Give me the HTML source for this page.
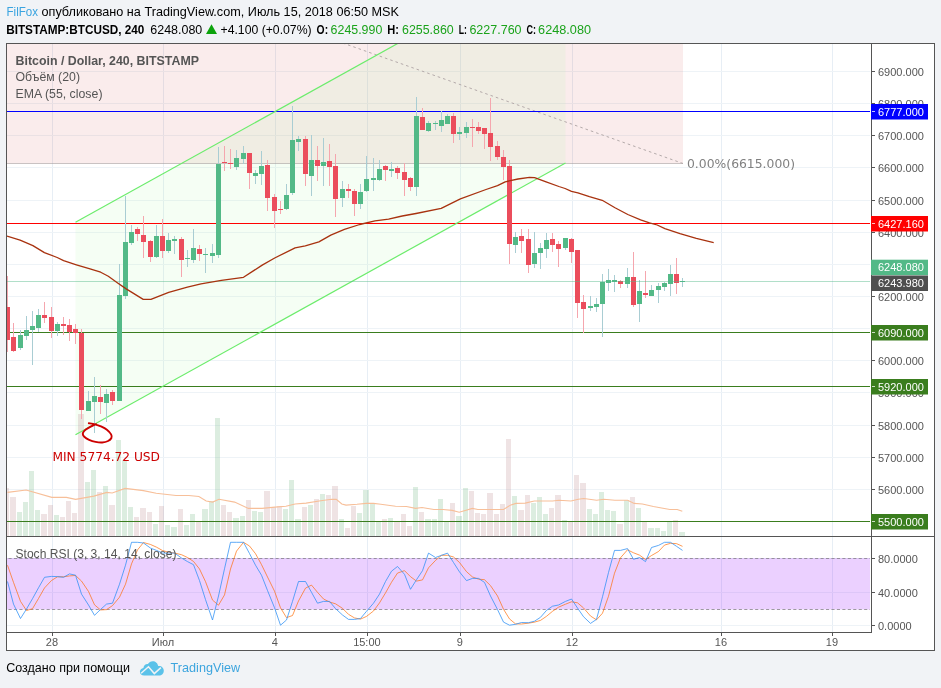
<!DOCTYPE html>
<html lang="ru"><head><meta charset="utf-8"><title>BTCUSD chart by FilFox — TradingView</title>
<style>html,body{margin:0;padding:0;background:#f1f3f6;width:941px;height:688px;overflow:hidden}
svg{display:block;position:absolute;left:0;top:0}
text{font-family:"Liberation Sans",Arial,sans-serif;white-space:pre}
.dj{font-family:"DejaVu Sans","Liberation Sans",sans-serif}
.ax{font-size:11px;fill:#555}
.lb{font-size:11px;fill:#fff}
.lg{font-size:12.3px;fill:#555}
.hd{font-size:12.4px;fill:#000}
.g{fill:#1ba31b}
</style></head><body>
<svg width="941" height="688" viewBox="0 0 941 688">
<rect x="0" y="0" width="941" height="688" fill="#f1f3f6"/>
<rect x="6" y="43" width="929" height="608" fill="#fff"/>
<defs><clipPath id="cm"><rect x="7" y="44" width="863" height="492"/></clipPath>
<clipPath id="cs"><rect x="7" y="537" width="863" height="95"/></clipPath></defs>
<g clip-path="url(#cm)">
<g fill="#eef3f7" shape-rendering="crispEdges">
<rect x="52" y="44" width="1" height="492" fill="#e7eef5"/>
<rect x="163" y="44" width="1" height="492" fill="#e7eef5"/>
<rect x="275" y="44" width="1" height="492" fill="#e7eef5"/>
<rect x="367" y="44" width="1" height="492" fill="#e7eef5"/>
<rect x="460" y="44" width="1" height="492" fill="#e7eef5"/>
<rect x="572" y="44" width="1" height="492" fill="#e7eef5"/>
<rect x="721" y="44" width="1" height="492" fill="#e7eef5"/>
<rect x="832" y="44" width="1" height="492" fill="#e7eef5"/>
<rect x="7" y="521" width="863" height="1"/>
<rect x="7" y="489" width="863" height="1"/>
<rect x="7" y="457" width="863" height="1"/>
<rect x="7" y="425" width="863" height="1"/>
<rect x="7" y="392" width="863" height="1"/>
<rect x="7" y="360" width="863" height="1"/>
<rect x="7" y="328" width="863" height="1"/>
<rect x="7" y="296" width="863" height="1"/>
<rect x="7" y="264" width="863" height="1"/>
<rect x="7" y="232" width="863" height="1"/>
<rect x="7" y="200" width="863" height="1"/>
<rect x="7" y="167" width="863" height="1"/>
<rect x="7" y="135" width="863" height="1"/>
<rect x="7" y="103" width="863" height="1"/>
<rect x="7" y="71" width="863" height="1"/>
</g>
<rect x="7" y="44" width="676" height="119" fill="rgb(204,40,40)" fill-opacity="0.092"/>
<polygon points="75.5,222.3 565.5,-49.65 565.5,163 75.5,434.7" fill="rgb(184,248,177)" fill-opacity="0.14"/>
<rect x="7" y="163" width="676" height="1" fill="#a59a9a" fill-opacity="0.6" shape-rendering="crispEdges"/>
<line x1="683" y1="163.5" x2="330" y2="38.5" stroke="#b4aaaa" stroke-width="1" stroke-dasharray="2.6,3"/>
<g shape-rendering="crispEdges">
<rect x="4" y="488" width="5" height="48" fill="rgb(191,143,147)" fill-opacity="0.25"/>
<rect x="10" y="497" width="6" height="39" fill="rgb(191,143,147)" fill-opacity="0.25"/>
<rect x="17" y="512" width="5" height="24" fill="rgb(115,183,131)" fill-opacity="0.25"/>
<rect x="23" y="502" width="5" height="34" fill="rgb(115,183,131)" fill-opacity="0.25"/>
<rect x="29" y="471" width="5" height="65" fill="rgb(115,183,131)" fill-opacity="0.25"/>
<rect x="35" y="510" width="5" height="26" fill="rgb(115,183,131)" fill-opacity="0.25"/>
<rect x="41" y="514" width="6" height="22" fill="rgb(191,143,147)" fill-opacity="0.25"/>
<rect x="48" y="505" width="5" height="31" fill="rgb(191,143,147)" fill-opacity="0.25"/>
<rect x="54" y="515" width="5" height="21" fill="rgb(115,183,131)" fill-opacity="0.25"/>
<rect x="60" y="517" width="5" height="19" fill="rgb(191,143,147)" fill-opacity="0.25"/>
<rect x="66" y="501" width="5" height="35" fill="rgb(191,143,147)" fill-opacity="0.25"/>
<rect x="72" y="513" width="5" height="23" fill="rgb(191,143,147)" fill-opacity="0.25"/>
<rect x="78" y="414" width="6" height="122" fill="rgb(191,143,147)" fill-opacity="0.25"/>
<rect x="85" y="482" width="5" height="54" fill="rgb(115,183,131)" fill-opacity="0.25"/>
<rect x="91" y="470" width="5" height="66" fill="rgb(115,183,131)" fill-opacity="0.25"/>
<rect x="97" y="492" width="5" height="44" fill="rgb(191,143,147)" fill-opacity="0.25"/>
<rect x="103" y="486" width="5" height="50" fill="rgb(115,183,131)" fill-opacity="0.25"/>
<rect x="109" y="505" width="6" height="31" fill="rgb(191,143,147)" fill-opacity="0.25"/>
<rect x="116" y="440" width="5" height="96" fill="rgb(115,183,131)" fill-opacity="0.25"/>
<rect x="122" y="460" width="5" height="76" fill="rgb(115,183,131)" fill-opacity="0.25"/>
<rect x="128" y="507" width="5" height="29" fill="rgb(115,183,131)" fill-opacity="0.25"/>
<rect x="134" y="517" width="5" height="19" fill="rgb(191,143,147)" fill-opacity="0.25"/>
<rect x="140" y="508" width="6" height="28" fill="rgb(191,143,147)" fill-opacity="0.25"/>
<rect x="147" y="512" width="5" height="24" fill="rgb(191,143,147)" fill-opacity="0.25"/>
<rect x="153" y="524" width="5" height="12" fill="rgb(115,183,131)" fill-opacity="0.25"/>
<rect x="159" y="506" width="5" height="30" fill="rgb(191,143,147)" fill-opacity="0.25"/>
<rect x="165" y="525" width="5" height="11" fill="rgb(115,183,131)" fill-opacity="0.25"/>
<rect x="171" y="527" width="6" height="9" fill="rgb(115,183,131)" fill-opacity="0.25"/>
<rect x="178" y="509" width="5" height="27" fill="rgb(191,143,147)" fill-opacity="0.25"/>
<rect x="184" y="525" width="5" height="11" fill="rgb(115,183,131)" fill-opacity="0.25"/>
<rect x="190" y="514" width="5" height="22" fill="rgb(115,183,131)" fill-opacity="0.25"/>
<rect x="196" y="522" width="5" height="14" fill="rgb(191,143,147)" fill-opacity="0.25"/>
<rect x="202" y="509" width="6" height="27" fill="rgb(115,183,131)" fill-opacity="0.25"/>
<rect x="209" y="501" width="5" height="35" fill="rgb(115,183,131)" fill-opacity="0.25"/>
<rect x="215" y="418" width="5" height="118" fill="rgb(115,183,131)" fill-opacity="0.25"/>
<rect x="221" y="505" width="5" height="31" fill="rgb(191,143,147)" fill-opacity="0.25"/>
<rect x="227" y="512" width="5" height="24" fill="rgb(191,143,147)" fill-opacity="0.25"/>
<rect x="233" y="518" width="6" height="18" fill="rgb(115,183,131)" fill-opacity="0.25"/>
<rect x="240" y="516" width="5" height="20" fill="rgb(115,183,131)" fill-opacity="0.25"/>
<rect x="246" y="500" width="5" height="36" fill="rgb(191,143,147)" fill-opacity="0.25"/>
<rect x="252" y="511" width="5" height="25" fill="rgb(115,183,131)" fill-opacity="0.25"/>
<rect x="258" y="512" width="5" height="24" fill="rgb(115,183,131)" fill-opacity="0.25"/>
<rect x="264" y="491" width="6" height="45" fill="rgb(191,143,147)" fill-opacity="0.25"/>
<rect x="271" y="507" width="5" height="29" fill="rgb(191,143,147)" fill-opacity="0.25"/>
<rect x="277" y="506" width="5" height="30" fill="rgb(191,143,147)" fill-opacity="0.25"/>
<rect x="283" y="509" width="5" height="27" fill="rgb(115,183,131)" fill-opacity="0.25"/>
<rect x="289" y="480" width="5" height="56" fill="rgb(115,183,131)" fill-opacity="0.25"/>
<rect x="295" y="519" width="6" height="17" fill="rgb(115,183,131)" fill-opacity="0.25"/>
<rect x="302" y="507" width="5" height="29" fill="rgb(191,143,147)" fill-opacity="0.25"/>
<rect x="308" y="505" width="5" height="31" fill="rgb(115,183,131)" fill-opacity="0.25"/>
<rect x="314" y="499" width="5" height="37" fill="rgb(191,143,147)" fill-opacity="0.25"/>
<rect x="320" y="494" width="5" height="42" fill="rgb(115,183,131)" fill-opacity="0.25"/>
<rect x="326" y="495" width="5" height="41" fill="rgb(191,143,147)" fill-opacity="0.25"/>
<rect x="332" y="486" width="6" height="50" fill="rgb(191,143,147)" fill-opacity="0.25"/>
<rect x="339" y="519" width="5" height="17" fill="rgb(115,183,131)" fill-opacity="0.25"/>
<rect x="345" y="528" width="5" height="8" fill="rgb(191,143,147)" fill-opacity="0.25"/>
<rect x="351" y="506" width="5" height="30" fill="rgb(191,143,147)" fill-opacity="0.25"/>
<rect x="357" y="513" width="5" height="23" fill="rgb(115,183,131)" fill-opacity="0.25"/>
<rect x="363" y="490" width="6" height="46" fill="rgb(115,183,131)" fill-opacity="0.25"/>
<rect x="370" y="504" width="5" height="32" fill="rgb(115,183,131)" fill-opacity="0.25"/>
<rect x="376" y="522" width="5" height="14" fill="rgb(115,183,131)" fill-opacity="0.25"/>
<rect x="382" y="519" width="5" height="17" fill="rgb(191,143,147)" fill-opacity="0.25"/>
<rect x="388" y="518" width="5" height="18" fill="rgb(115,183,131)" fill-opacity="0.25"/>
<rect x="394" y="522" width="6" height="14" fill="rgb(191,143,147)" fill-opacity="0.25"/>
<rect x="401" y="514" width="5" height="22" fill="rgb(191,143,147)" fill-opacity="0.25"/>
<rect x="407" y="526" width="5" height="10" fill="rgb(191,143,147)" fill-opacity="0.25"/>
<rect x="413" y="487" width="5" height="49" fill="rgb(115,183,131)" fill-opacity="0.25"/>
<rect x="419" y="512" width="5" height="24" fill="rgb(191,143,147)" fill-opacity="0.25"/>
<rect x="425" y="519" width="6" height="17" fill="rgb(115,183,131)" fill-opacity="0.25"/>
<rect x="432" y="519" width="5" height="17" fill="rgb(115,183,131)" fill-opacity="0.25"/>
<rect x="438" y="499" width="5" height="37" fill="rgb(115,183,131)" fill-opacity="0.25"/>
<rect x="444" y="522" width="5" height="14" fill="rgb(115,183,131)" fill-opacity="0.25"/>
<rect x="450" y="503" width="5" height="33" fill="rgb(191,143,147)" fill-opacity="0.25"/>
<rect x="456" y="516" width="6" height="20" fill="rgb(115,183,131)" fill-opacity="0.25"/>
<rect x="463" y="488" width="5" height="48" fill="rgb(115,183,131)" fill-opacity="0.25"/>
<rect x="469" y="491" width="5" height="45" fill="rgb(191,143,147)" fill-opacity="0.25"/>
<rect x="475" y="513" width="5" height="23" fill="rgb(191,143,147)" fill-opacity="0.25"/>
<rect x="481" y="514" width="5" height="22" fill="rgb(191,143,147)" fill-opacity="0.25"/>
<rect x="487" y="493" width="6" height="43" fill="rgb(191,143,147)" fill-opacity="0.25"/>
<rect x="494" y="514" width="5" height="22" fill="rgb(191,143,147)" fill-opacity="0.25"/>
<rect x="500" y="504" width="5" height="32" fill="rgb(191,143,147)" fill-opacity="0.25"/>
<rect x="506" y="439" width="5" height="97" fill="rgb(191,143,147)" fill-opacity="0.25"/>
<rect x="512" y="496" width="5" height="40" fill="rgb(115,183,131)" fill-opacity="0.25"/>
<rect x="518" y="510" width="6" height="26" fill="rgb(191,143,147)" fill-opacity="0.25"/>
<rect x="525" y="495" width="5" height="41" fill="rgb(191,143,147)" fill-opacity="0.25"/>
<rect x="531" y="503" width="5" height="33" fill="rgb(115,183,131)" fill-opacity="0.25"/>
<rect x="537" y="497" width="5" height="39" fill="rgb(115,183,131)" fill-opacity="0.25"/>
<rect x="543" y="514" width="5" height="22" fill="rgb(115,183,131)" fill-opacity="0.25"/>
<rect x="549" y="508" width="5" height="28" fill="rgb(191,143,147)" fill-opacity="0.25"/>
<rect x="555" y="495" width="6" height="41" fill="rgb(191,143,147)" fill-opacity="0.25"/>
<rect x="562" y="520" width="5" height="16" fill="rgb(115,183,131)" fill-opacity="0.25"/>
<rect x="568" y="522" width="5" height="14" fill="rgb(191,143,147)" fill-opacity="0.25"/>
<rect x="574" y="475" width="5" height="61" fill="rgb(191,143,147)" fill-opacity="0.25"/>
<rect x="580" y="483" width="6" height="53" fill="rgb(191,143,147)" fill-opacity="0.25"/>
<rect x="587" y="509" width="5" height="27" fill="rgb(115,183,131)" fill-opacity="0.25"/>
<rect x="593" y="514" width="5" height="22" fill="rgb(115,183,131)" fill-opacity="0.25"/>
<rect x="599" y="492" width="5" height="44" fill="rgb(115,183,131)" fill-opacity="0.25"/>
<rect x="605" y="510" width="5" height="26" fill="rgb(115,183,131)" fill-opacity="0.25"/>
<rect x="611" y="511" width="5" height="25" fill="rgb(115,183,131)" fill-opacity="0.25"/>
<rect x="617" y="524" width="6" height="12" fill="rgb(191,143,147)" fill-opacity="0.25"/>
<rect x="624" y="500" width="5" height="36" fill="rgb(115,183,131)" fill-opacity="0.25"/>
<rect x="630" y="497" width="5" height="39" fill="rgb(191,143,147)" fill-opacity="0.25"/>
<rect x="636" y="508" width="5" height="28" fill="rgb(115,183,131)" fill-opacity="0.25"/>
<rect x="642" y="521" width="5" height="15" fill="rgb(191,143,147)" fill-opacity="0.25"/>
<rect x="648" y="528" width="6" height="8" fill="rgb(115,183,131)" fill-opacity="0.25"/>
<rect x="655" y="528" width="5" height="8" fill="rgb(115,183,131)" fill-opacity="0.25"/>
<rect x="661" y="531" width="5" height="5" fill="rgb(115,183,131)" fill-opacity="0.25"/>
<rect x="667" y="522" width="5" height="14" fill="rgb(115,183,131)" fill-opacity="0.25"/>
<rect x="673" y="520" width="5" height="16" fill="rgb(191,143,147)" fill-opacity="0.25"/>
<rect x="679" y="532" width="6" height="4" fill="rgb(115,183,131)" fill-opacity="0.25"/>
</g>
<polyline fill="none" stroke="#f7bf99" stroke-width="1.1" points="7.5,492.4 26.2,490 51.8,497.4 66.4,497.4 75.6,499.4 93.9,496.1 106.8,492.4 112.2,493 125.1,488.4 143.4,490.6 156.2,493.3 176,495.5 188.8,495.5 198.9,496.5 206.2,501 212.6,502.1 219,499.2 234.6,502.1 248.4,508.4 262.1,508.4 274.9,507.1 285.9,506.2 295.1,504 306.1,503.1 320.7,500.7 331.7,499.2 336.3,499.4 341.8,504 346,505.1 357,504.3 366.2,503.4 373.5,503.4 380.8,504.3 395.5,506.2 406.5,506.5 415.6,508.4 422,507.5 433.9,509.5 443.1,509.5 452.2,510.4 459.2,512.2 472.4,508.4 477.9,509.5 503.5,509.5 510.9,504.9 516,503.4 525.2,503.1 534.3,501 552.6,501 559,500.3 571,501 578.3,499.2 583.8,498.5 596.6,500.3 603.9,499.2 614.9,500.3 627.7,500.3 634.2,503.4 642.4,504 653.4,506.5 669.9,509.5 677.2,509.5 682.3,511.3"/>
<g shape-rendering="crispEdges">
<rect x="7" y="111" width="863" height="1" fill="#0000ff"/>
<rect x="7" y="223" width="863" height="1" fill="#ff0000"/>
<rect x="7" y="332" width="863" height="1" fill="#3a7d1e"/>
<rect x="7" y="386" width="863" height="1" fill="#3a7d1e"/>
<rect x="7" y="521" width="863" height="1" fill="#3a7d1e"/>
</g>
<line x1="75.5" y1="222.3" x2="565.5" y2="-49.65" stroke="#6cec6c" stroke-width="1.2"/>
<line x1="75.5" y1="434.7" x2="565.5" y2="163" stroke="#6cec6c" stroke-width="1.2"/>
<g shape-rendering="crispEdges">
<rect x="7" y="276" width="1" height="76" fill="#f5a6ae"/>
<rect x="5" y="307" width="5" height="33" fill="#eb4d5c"/>
<rect x="13" y="323" width="1" height="29" fill="#f5a6ae"/>
<rect x="11" y="337" width="5" height="14" fill="#eb4d5c"/>
<rect x="20" y="330" width="1" height="20" fill="#a9cdd3"/>
<rect x="18" y="335" width="5" height="13" fill="#53b987"/>
<rect x="26" y="316" width="1" height="24" fill="#a9cdd3"/>
<rect x="24" y="330" width="5" height="6" fill="#53b987"/>
<rect x="32" y="311" width="1" height="54" fill="#a9cdd3"/>
<rect x="30" y="326" width="5" height="4" fill="#53b987"/>
<rect x="38" y="309" width="1" height="23" fill="#a9cdd3"/>
<rect x="36" y="315" width="5" height="13" fill="#53b987"/>
<rect x="44" y="302" width="1" height="21" fill="#f5a6ae"/>
<rect x="42" y="315" width="5" height="3" fill="#eb4d5c"/>
<rect x="51" y="307" width="1" height="31" fill="#f5a6ae"/>
<rect x="49" y="317" width="5" height="14" fill="#eb4d5c"/>
<rect x="57" y="322" width="1" height="14" fill="#a9cdd3"/>
<rect x="55" y="324" width="5" height="7" fill="#53b987"/>
<rect x="63" y="317" width="1" height="18" fill="#f5a6ae"/>
<rect x="61" y="324" width="5" height="2" fill="#eb4d5c"/>
<rect x="69" y="319" width="1" height="22" fill="#f5a6ae"/>
<rect x="67" y="325" width="5" height="7" fill="#eb4d5c"/>
<rect x="75" y="324" width="1" height="20" fill="#f5a6ae"/>
<rect x="73" y="329" width="5" height="4" fill="#eb4d5c"/>
<rect x="81" y="329" width="1" height="90" fill="#f5a6ae"/>
<rect x="79" y="333" width="5" height="77" fill="#eb4d5c"/>
<rect x="88" y="391" width="1" height="20" fill="#a9cdd3"/>
<rect x="86" y="401" width="5" height="10" fill="#53b987"/>
<rect x="94" y="377" width="1" height="56" fill="#a9cdd3"/>
<rect x="92" y="396" width="5" height="6" fill="#53b987"/>
<rect x="100" y="385" width="1" height="29" fill="#f5a6ae"/>
<rect x="98" y="397" width="5" height="5" fill="#eb4d5c"/>
<rect x="106" y="389" width="1" height="33" fill="#a9cdd3"/>
<rect x="104" y="394" width="5" height="9" fill="#53b987"/>
<rect x="112" y="390" width="1" height="15" fill="#f5a6ae"/>
<rect x="110" y="392" width="5" height="9" fill="#eb4d5c"/>
<rect x="119" y="264" width="1" height="137" fill="#a9cdd3"/>
<rect x="117" y="295" width="5" height="106" fill="#53b987"/>
<rect x="125" y="196" width="1" height="103" fill="#a9cdd3"/>
<rect x="123" y="242" width="5" height="54" fill="#53b987"/>
<rect x="131" y="225" width="1" height="20" fill="#a9cdd3"/>
<rect x="129" y="232" width="5" height="11" fill="#53b987"/>
<rect x="137" y="227" width="1" height="14" fill="#f5a6ae"/>
<rect x="135" y="229" width="5" height="5" fill="#eb4d5c"/>
<rect x="143" y="216" width="1" height="42" fill="#f5a6ae"/>
<rect x="141" y="235" width="5" height="7" fill="#eb4d5c"/>
<rect x="150" y="240" width="1" height="22" fill="#f5a6ae"/>
<rect x="148" y="241" width="5" height="16" fill="#eb4d5c"/>
<rect x="156" y="225" width="1" height="33" fill="#a9cdd3"/>
<rect x="154" y="236" width="5" height="21" fill="#53b987"/>
<rect x="162" y="219" width="1" height="39" fill="#f5a6ae"/>
<rect x="160" y="236" width="5" height="15" fill="#eb4d5c"/>
<rect x="168" y="233" width="1" height="20" fill="#a9cdd3"/>
<rect x="166" y="240" width="5" height="11" fill="#53b987"/>
<rect x="174" y="236" width="1" height="18" fill="#a9cdd3"/>
<rect x="172" y="239" width="5" height="2" fill="#53b987"/>
<rect x="181" y="237" width="1" height="40" fill="#f5a6ae"/>
<rect x="179" y="239" width="5" height="21" fill="#eb4d5c"/>
<rect x="187" y="250" width="1" height="17" fill="#a9cdd3"/>
<rect x="185" y="258" width="5" height="1" fill="#53b987"/>
<rect x="193" y="229" width="1" height="34" fill="#a9cdd3"/>
<rect x="191" y="248" width="5" height="12" fill="#53b987"/>
<rect x="199" y="245" width="1" height="16" fill="#f5a6ae"/>
<rect x="197" y="249" width="5" height="5" fill="#eb4d5c"/>
<rect x="205" y="248" width="1" height="25" fill="#a9cdd3"/>
<rect x="203" y="254" width="5" height="1" fill="#53b987"/>
<rect x="212" y="244" width="1" height="19" fill="#a9cdd3"/>
<rect x="210" y="253" width="5" height="3" fill="#53b987"/>
<rect x="218" y="147" width="1" height="111" fill="#a9cdd3"/>
<rect x="216" y="164" width="5" height="91" fill="#53b987"/>
<rect x="224" y="146" width="1" height="25" fill="#f5a6ae"/>
<rect x="222" y="162" width="5" height="1" fill="#eb4d5c"/>
<rect x="230" y="149" width="1" height="20" fill="#f5a6ae"/>
<rect x="228" y="163" width="5" height="1" fill="#eb4d5c"/>
<rect x="236" y="150" width="1" height="20" fill="#a9cdd3"/>
<rect x="234" y="158" width="5" height="9" fill="#53b987"/>
<rect x="243" y="146" width="1" height="18" fill="#a9cdd3"/>
<rect x="241" y="153" width="5" height="6" fill="#53b987"/>
<rect x="249" y="153" width="1" height="36" fill="#f5a6ae"/>
<rect x="247" y="153" width="5" height="20" fill="#eb4d5c"/>
<rect x="255" y="170" width="1" height="14" fill="#a9cdd3"/>
<rect x="253" y="173" width="5" height="3" fill="#53b987"/>
<rect x="261" y="151" width="1" height="34" fill="#a9cdd3"/>
<rect x="259" y="166" width="5" height="8" fill="#53b987"/>
<rect x="267" y="160" width="1" height="51" fill="#f5a6ae"/>
<rect x="265" y="165" width="5" height="33" fill="#eb4d5c"/>
<rect x="274" y="194" width="1" height="34" fill="#f5a6ae"/>
<rect x="272" y="197" width="5" height="14" fill="#eb4d5c"/>
<rect x="280" y="201" width="1" height="13" fill="#f5a6ae"/>
<rect x="278" y="209" width="5" height="1" fill="#eb4d5c"/>
<rect x="286" y="184" width="1" height="26" fill="#a9cdd3"/>
<rect x="284" y="195" width="5" height="14" fill="#53b987"/>
<rect x="292" y="106" width="1" height="89" fill="#a9cdd3"/>
<rect x="290" y="140" width="5" height="53" fill="#53b987"/>
<rect x="298" y="136" width="1" height="15" fill="#a9cdd3"/>
<rect x="296" y="139" width="5" height="3" fill="#53b987"/>
<rect x="305" y="136" width="1" height="50" fill="#f5a6ae"/>
<rect x="303" y="139" width="5" height="35" fill="#eb4d5c"/>
<rect x="311" y="135" width="1" height="61" fill="#a9cdd3"/>
<rect x="309" y="160" width="5" height="16" fill="#53b987"/>
<rect x="317" y="146" width="1" height="35" fill="#f5a6ae"/>
<rect x="315" y="160" width="5" height="6" fill="#eb4d5c"/>
<rect x="323" y="138" width="1" height="48" fill="#a9cdd3"/>
<rect x="321" y="162" width="5" height="4" fill="#53b987"/>
<rect x="329" y="144" width="1" height="42" fill="#f5a6ae"/>
<rect x="327" y="161" width="5" height="6" fill="#eb4d5c"/>
<rect x="335" y="154" width="1" height="63" fill="#f5a6ae"/>
<rect x="333" y="166" width="5" height="33" fill="#eb4d5c"/>
<rect x="342" y="181" width="1" height="26" fill="#a9cdd3"/>
<rect x="340" y="189" width="5" height="9" fill="#53b987"/>
<rect x="348" y="184" width="1" height="14" fill="#f5a6ae"/>
<rect x="346" y="189" width="5" height="2" fill="#eb4d5c"/>
<rect x="354" y="189" width="1" height="27" fill="#f5a6ae"/>
<rect x="352" y="191" width="5" height="13" fill="#eb4d5c"/>
<rect x="360" y="184" width="1" height="25" fill="#a9cdd3"/>
<rect x="358" y="192" width="5" height="12" fill="#53b987"/>
<rect x="366" y="156" width="1" height="36" fill="#a9cdd3"/>
<rect x="364" y="179" width="5" height="12" fill="#53b987"/>
<rect x="373" y="158" width="1" height="33" fill="#a9cdd3"/>
<rect x="371" y="178" width="5" height="2" fill="#53b987"/>
<rect x="379" y="160" width="1" height="21" fill="#a9cdd3"/>
<rect x="377" y="169" width="5" height="11" fill="#53b987"/>
<rect x="385" y="165" width="1" height="16" fill="#f5a6ae"/>
<rect x="383" y="166" width="5" height="4" fill="#eb4d5c"/>
<rect x="391" y="162" width="1" height="15" fill="#a9cdd3"/>
<rect x="389" y="169" width="5" height="2" fill="#53b987"/>
<rect x="397" y="166" width="1" height="13" fill="#f5a6ae"/>
<rect x="395" y="168" width="5" height="5" fill="#eb4d5c"/>
<rect x="404" y="163" width="1" height="33" fill="#f5a6ae"/>
<rect x="402" y="172" width="5" height="8" fill="#eb4d5c"/>
<rect x="410" y="177" width="1" height="14" fill="#f5a6ae"/>
<rect x="408" y="178" width="5" height="9" fill="#eb4d5c"/>
<rect x="416" y="97" width="1" height="99" fill="#a9cdd3"/>
<rect x="414" y="116" width="5" height="71" fill="#53b987"/>
<rect x="422" y="108" width="1" height="22" fill="#f5a6ae"/>
<rect x="420" y="117" width="5" height="13" fill="#eb4d5c"/>
<rect x="428" y="121" width="1" height="11" fill="#a9cdd3"/>
<rect x="426" y="123" width="5" height="8" fill="#53b987"/>
<rect x="435" y="121" width="1" height="9" fill="#a9cdd3"/>
<rect x="433" y="123" width="5" height="1" fill="#53b987"/>
<rect x="441" y="111" width="1" height="21" fill="#a9cdd3"/>
<rect x="439" y="120" width="5" height="6" fill="#53b987"/>
<rect x="447" y="114" width="1" height="10" fill="#a9cdd3"/>
<rect x="445" y="116" width="5" height="8" fill="#53b987"/>
<rect x="453" y="113" width="1" height="30" fill="#f5a6ae"/>
<rect x="451" y="116" width="5" height="18" fill="#eb4d5c"/>
<rect x="459" y="127" width="1" height="13" fill="#a9cdd3"/>
<rect x="457" y="132" width="5" height="2" fill="#53b987"/>
<rect x="466" y="122" width="1" height="16" fill="#a9cdd3"/>
<rect x="464" y="127" width="5" height="6" fill="#53b987"/>
<rect x="472" y="119" width="1" height="28" fill="#f5a6ae"/>
<rect x="470" y="127" width="5" height="1" fill="#eb4d5c"/>
<rect x="478" y="122" width="1" height="12" fill="#f5a6ae"/>
<rect x="476" y="127" width="5" height="4" fill="#eb4d5c"/>
<rect x="484" y="128" width="1" height="21" fill="#f5a6ae"/>
<rect x="482" y="128" width="5" height="6" fill="#eb4d5c"/>
<rect x="490" y="98" width="1" height="63" fill="#f5a6ae"/>
<rect x="488" y="133" width="5" height="14" fill="#eb4d5c"/>
<rect x="497" y="141" width="1" height="19" fill="#f5a6ae"/>
<rect x="495" y="146" width="5" height="11" fill="#eb4d5c"/>
<rect x="503" y="150" width="1" height="30" fill="#f5a6ae"/>
<rect x="501" y="157" width="5" height="10" fill="#eb4d5c"/>
<rect x="509" y="160" width="1" height="104" fill="#f5a6ae"/>
<rect x="507" y="166" width="5" height="78" fill="#eb4d5c"/>
<rect x="515" y="232" width="1" height="21" fill="#a9cdd3"/>
<rect x="513" y="237" width="5" height="8" fill="#53b987"/>
<rect x="521" y="229" width="1" height="24" fill="#f5a6ae"/>
<rect x="519" y="236" width="5" height="5" fill="#eb4d5c"/>
<rect x="528" y="229" width="1" height="44" fill="#f5a6ae"/>
<rect x="526" y="239" width="5" height="26" fill="#eb4d5c"/>
<rect x="534" y="232" width="1" height="36" fill="#a9cdd3"/>
<rect x="532" y="253" width="5" height="11" fill="#53b987"/>
<rect x="540" y="243" width="1" height="26" fill="#a9cdd3"/>
<rect x="538" y="248" width="5" height="5" fill="#53b987"/>
<rect x="546" y="233" width="1" height="25" fill="#a9cdd3"/>
<rect x="544" y="240" width="5" height="9" fill="#53b987"/>
<rect x="552" y="233" width="1" height="19" fill="#f5a6ae"/>
<rect x="550" y="239" width="5" height="6" fill="#eb4d5c"/>
<rect x="558" y="241" width="1" height="26" fill="#f5a6ae"/>
<rect x="556" y="244" width="5" height="5" fill="#eb4d5c"/>
<rect x="565" y="238" width="1" height="12" fill="#a9cdd3"/>
<rect x="563" y="238" width="5" height="10" fill="#53b987"/>
<rect x="571" y="238" width="1" height="25" fill="#f5a6ae"/>
<rect x="569" y="239" width="5" height="13" fill="#eb4d5c"/>
<rect x="577" y="250" width="1" height="68" fill="#f5a6ae"/>
<rect x="575" y="250" width="5" height="53" fill="#eb4d5c"/>
<rect x="583" y="295" width="1" height="38" fill="#f5a6ae"/>
<rect x="581" y="302" width="5" height="7" fill="#eb4d5c"/>
<rect x="590" y="296" width="1" height="15" fill="#a9cdd3"/>
<rect x="588" y="306" width="5" height="2" fill="#53b987"/>
<rect x="596" y="298" width="1" height="14" fill="#a9cdd3"/>
<rect x="594" y="304" width="5" height="3" fill="#53b987"/>
<rect x="602" y="274" width="1" height="63" fill="#a9cdd3"/>
<rect x="600" y="282" width="5" height="22" fill="#53b987"/>
<rect x="608" y="269" width="1" height="22" fill="#a9cdd3"/>
<rect x="606" y="280" width="5" height="3" fill="#53b987"/>
<rect x="614" y="275" width="1" height="17" fill="#a9cdd3"/>
<rect x="612" y="280" width="5" height="2" fill="#53b987"/>
<rect x="620" y="280" width="1" height="8" fill="#f5a6ae"/>
<rect x="618" y="281" width="5" height="3" fill="#eb4d5c"/>
<rect x="627" y="268" width="1" height="20" fill="#a9cdd3"/>
<rect x="625" y="277" width="5" height="7" fill="#53b987"/>
<rect x="633" y="252" width="1" height="55" fill="#f5a6ae"/>
<rect x="631" y="277" width="5" height="28" fill="#eb4d5c"/>
<rect x="639" y="280" width="1" height="42" fill="#a9cdd3"/>
<rect x="637" y="291" width="5" height="13" fill="#53b987"/>
<rect x="645" y="271" width="1" height="27" fill="#f5a6ae"/>
<rect x="643" y="293" width="5" height="2" fill="#eb4d5c"/>
<rect x="651" y="285" width="1" height="11" fill="#a9cdd3"/>
<rect x="649" y="290" width="5" height="6" fill="#53b987"/>
<rect x="658" y="283" width="1" height="20" fill="#a9cdd3"/>
<rect x="656" y="286" width="5" height="4" fill="#53b987"/>
<rect x="664" y="282" width="1" height="9" fill="#a9cdd3"/>
<rect x="662" y="283" width="5" height="4" fill="#53b987"/>
<rect x="670" y="265" width="1" height="31" fill="#a9cdd3"/>
<rect x="668" y="274" width="5" height="10" fill="#53b987"/>
<rect x="676" y="258" width="1" height="36" fill="#f5a6ae"/>
<rect x="674" y="274" width="5" height="9" fill="#eb4d5c"/>
<rect x="682" y="278" width="1" height="9" fill="#a9cdd3"/>
<rect x="680" y="281" width="5" height="1" fill="#53b987"/>
</g>
<rect x="7" y="281" width="863" height="1" fill="#53b987" fill-opacity="0.45" shape-rendering="crispEdges"/>
<polyline fill="none" stroke="#a8320f" stroke-width="1.3" stroke-linejoin="round" points="7,236 20.1,240.1 32.9,245.6 44.4,252.6 57.2,257.5 63.6,260.7 76.4,264.8 89.2,268.6 100.7,272.2 108.3,276.3 117.3,282.7 126.2,288.9 143.2,299.4 150.9,299.4 168.7,292.3 187.4,287.2 201,283.8 221.4,280.4 243.5,277.3 262.2,265.1 274.7,258 295.1,247.8 305.3,245.8 318.9,241.9 330.8,235.1 344.4,229.4 359.7,224.5 375,220.9 388.6,219.2 402.2,216 416,213.5 441.2,208.4 460.4,198.8 486,189.5 497.5,185.6 505.2,181.8 518,179 529.5,177.3 534.6,177.6 546.1,181.8 558.9,186.5 565.1,188.5 571.5,191.4 577.9,192.8 589.4,196.6 602.2,200.3 615,207.7 627.8,214.5 640.6,219.9 649.5,222.8 657.2,225 664.9,228.6 680,233.7 696.3,238.4 713.7,242.7"/>
<path d="M88.8,423.2 C89.83,423.38 92.97,423.77 95,424.3 C97.03,424.83 99.02,425.5 101,426.4 C102.98,427.3 105.22,428.37 106.9,429.7 C108.58,431.03 110.35,433.02 111.1,434.4 C111.85,435.78 111.9,436.9 111.4,438 C110.9,439.1 109.63,440.25 108.1,441 C106.57,441.75 104.28,442.35 102.2,442.5 C100.12,442.65 97.78,442.35 95.6,441.9 C93.42,441.45 90.98,440.65 89.1,439.8 C87.22,438.95 85.35,437.8 84.3,436.8 C83.25,435.8 82.8,434.8 82.8,433.8 C82.8,432.8 83.35,431.78 84.3,430.8 C85.25,429.82 86.92,428.83 88.5,427.9 C90.08,426.97 92.52,425.8 93.8,425.2 C95.08,424.6 95.8,424.45 96.2,424.3" fill="none" stroke="#cc0000" stroke-width="1.9" stroke-linecap="round" stroke-linejoin="round"/>
</g>
<text class="dj" x="52.5" y="460.5" font-size="12.2px" fill="#cc0000" textLength="107.5" lengthAdjust="spacingAndGlyphs">MIN 5774.72 USD</text>
<text class="dj" x="687" y="168.3" font-size="12.3px" fill="#808080" textLength="108" lengthAdjust="spacingAndGlyphs">0.00%(6615.000)</text>
<text class="lg" x="15.5" y="64.7" font-weight="bold" textLength="183.5" lengthAdjust="spacingAndGlyphs">Bitcoin / Dollar, 240, BITSTAMP</text>
<text class="lg" x="15.5" y="81.4" textLength="64.5" lengthAdjust="spacingAndGlyphs">Объём (20)</text>
<text class="lg" x="15.5" y="98.1" textLength="87" lengthAdjust="spacingAndGlyphs">EMA (55, close)</text>
<g clip-path="url(#cs)">
<g fill="#eef3f7" shape-rendering="crispEdges">
<rect x="52" y="537" width="1" height="95" fill="#e7eef5"/>
<rect x="163" y="537" width="1" height="95" fill="#e7eef5"/>
<rect x="275" y="537" width="1" height="95" fill="#e7eef5"/>
<rect x="367" y="537" width="1" height="95" fill="#e7eef5"/>
<rect x="460" y="537" width="1" height="95" fill="#e7eef5"/>
<rect x="572" y="537" width="1" height="95" fill="#e7eef5"/>
<rect x="721" y="537" width="1" height="95" fill="#e7eef5"/>
<rect x="832" y="537" width="1" height="95" fill="#e7eef5"/>
<rect x="7" y="558" width="863" height="1"/>
<rect x="7" y="592" width="863" height="1"/>
<rect x="7" y="625" width="863" height="1"/>
</g>
<rect x="7" y="558" width="863" height="51.5" fill="rgb(153,21,255)" fill-opacity="0.2"/>
<line x1="8.5" y1="558.5" x2="870" y2="558.5" stroke="#777" stroke-width="1" stroke-dasharray="3.1,2.35" stroke-opacity="0.7"/>
<line x1="8.5" y1="609.5" x2="870" y2="609.5" stroke="#777" stroke-width="1" stroke-dasharray="3.1,2.35" stroke-opacity="0.7"/>
<polyline fill="none" stroke="#ff6a00" stroke-opacity="0.75" stroke-width="0.9" points="7.5,565.2 13.5,582.4 20.5,601.37 26.5,610.53 32.5,608.73 38.5,598.5 44.5,587.93 51.5,580.5 57.5,576.77 63.5,576.77 69.5,575.93 75.5,575.47 81.5,581.07 88.5,591.43 94.5,604.8 100.5,609.93 106.5,609.63 112.5,605.6 119.5,597.17 125.5,584.2 131.5,563.9 137.5,549.93 143.5,542.53 150.5,544.47 156.5,547.17 162.5,550.53 168.5,552.2 174.5,553.07 181.5,554.7 187.5,557.53 193.5,561.43 199.5,568.97 205.5,581.63 212.5,600.07 218.5,605.2 224.5,594.93 230.5,569.03 236.5,551.13 243.5,542.3 249.5,546.03 255.5,553.67 261.5,564.63 267.5,576.97 274.5,591.13 280.5,607.8 286.5,617.63 292.5,615.53 298.5,600.97 305.5,588.13 311.5,585.1 317.5,592.33 323.5,598.97 329.5,602 335.5,603.8 342.5,608.33 348.5,614.33 354.5,617.93 360.5,619.1 366.5,616.4 373.5,611 379.5,602.87 385.5,592.93 391.5,582.27 397.5,573.07 404.5,570.67 410.5,576.7 416.5,581.1 422.5,579.9 428.5,567.83 435.5,560.43 441.5,555.3 447.5,555.3 453.5,556.97 459.5,562.5 466.5,571.67 472.5,576.97 478.5,579.13 484.5,579.73 490.5,585.6 497.5,595.97 503.5,609.2 509.5,618.93 515.5,623.87 521.5,624 528.5,623.17 534.5,622.13 540.5,620.4 546.5,616.3 552.5,611.3 558.5,607.2 565.5,604.2 571.5,601.8 577.5,602.8 583.5,607.9 590.5,616.03 596.5,619.83 602.5,613.2 608.5,596.23 614.5,573.23 620.5,557.77 627.5,549.8 633.5,552.77 639.5,555.13 645.5,559.47 651.5,555.53 658.5,551.5 664.5,545.07 670.5,543.33 676.5,543.63 682.5,546.33"/>
<polyline fill="none" stroke="#2d8ff5" stroke-opacity="0.85" stroke-width="0.9" points="7.5,581.5 13.5,604.1 20.5,618.5 26.5,609 32.5,598.7 38.5,587.8 44.5,577.3 51.5,576.4 57.5,576.6 63.5,577.3 69.5,573.9 75.5,575.2 81.5,594.1 88.5,605 94.5,615.3 100.5,609.5 106.5,604.1 112.5,603.2 119.5,584.2 125.5,565.2 131.5,542.3 137.5,542.3 143.5,543 150.5,548.1 156.5,550.4 162.5,553.1 168.5,553.1 174.5,553 181.5,558 187.5,561.6 193.5,564.7 199.5,580.6 205.5,599.6 212.5,620 218.5,596 224.5,568.8 230.5,542.3 236.5,542.3 243.5,542.3 249.5,553.5 255.5,565.2 261.5,575.2 267.5,590.5 274.5,607.7 280.5,625.2 286.5,620 292.5,601.4 298.5,581.5 305.5,581.5 311.5,592.3 317.5,603.2 323.5,601.4 329.5,601.4 335.5,608.6 342.5,615 348.5,619.4 354.5,619.4 360.5,618.5 366.5,611.3 373.5,603.2 379.5,594.1 385.5,581.5 391.5,571.2 397.5,566.5 404.5,574.3 410.5,589.3 416.5,579.7 422.5,570.7 428.5,553.1 435.5,557.5 441.5,555.3 447.5,553.1 453.5,562.5 459.5,571.9 466.5,580.6 472.5,578.4 478.5,578.4 484.5,582.4 490.5,596 497.5,609.5 503.5,622.1 509.5,625.2 515.5,624.3 521.5,622.5 528.5,622.7 534.5,621.2 540.5,617.3 546.5,610.4 552.5,606.2 558.5,605 565.5,601.4 571.5,599 577.5,608 583.5,616.7 590.5,623.4 596.5,619.4 602.5,596.8 608.5,572.5 614.5,550.4 620.5,550.4 627.5,548.6 633.5,559.3 639.5,557.5 645.5,561.6 651.5,547.5 658.5,545.4 664.5,542.3 670.5,542.3 676.5,546.3 682.5,550.4"/>
</g>
<text class="lg" x="15.5" y="558" textLength="161" lengthAdjust="spacingAndGlyphs">Stoch RSI (3, 3, 14, 14, close)</text>
<g fill="#555" shape-rendering="crispEdges">
<rect x="6" y="43" width="929" height="1"/>
<rect x="6" y="650" width="929" height="1"/>
<rect x="6" y="43" width="1" height="608"/>
<rect x="934" y="43" width="1" height="608"/>
<rect x="871" y="43" width="1" height="590"/>
<rect x="6" y="536" width="929" height="1"/>
<rect x="6" y="632" width="866" height="1"/>
<rect x="872" y="489" width="3" height="1"/>
<rect x="872" y="457" width="3" height="1"/>
<rect x="872" y="425" width="3" height="1"/>
<rect x="872" y="392" width="3" height="1"/>
<rect x="872" y="360" width="3" height="1"/>
<rect x="872" y="328" width="3" height="1"/>
<rect x="872" y="296" width="3" height="1"/>
<rect x="872" y="264" width="3" height="1"/>
<rect x="872" y="232" width="3" height="1"/>
<rect x="872" y="200" width="3" height="1"/>
<rect x="872" y="167" width="3" height="1"/>
<rect x="872" y="135" width="3" height="1"/>
<rect x="872" y="103" width="3" height="1"/>
<rect x="872" y="71" width="3" height="1"/>
<rect x="872" y="558" width="3" height="1"/>
<rect x="872" y="592" width="3" height="1"/>
<rect x="872" y="625" width="3" height="1"/>
<rect x="52" y="633" width="1" height="3"/>
<rect x="163" y="633" width="1" height="3"/>
<rect x="275" y="633" width="1" height="3"/>
<rect x="367" y="633" width="1" height="3"/>
<rect x="460" y="633" width="1" height="3"/>
<rect x="572" y="633" width="1" height="3"/>
<rect x="721" y="633" width="1" height="3"/>
<rect x="832" y="633" width="1" height="3"/>
</g>
<text class="ax" x="878" y="493.7">5600.000</text>
<text class="ax" x="878" y="461.7">5700.000</text>
<text class="ax" x="878" y="429.7">5800.000</text>
<text class="ax" x="878" y="396.7">5900.000</text>
<text class="ax" x="878" y="364.7">6000.000</text>
<text class="ax" x="878" y="332.7">6100.000</text>
<text class="ax" x="878" y="300.7">6200.000</text>
<text class="ax" x="878" y="268.7">6300.000</text>
<text class="ax" x="878" y="236.7">6400.000</text>
<text class="ax" x="878" y="204.7">6500.000</text>
<text class="ax" x="878" y="171.7">6600.000</text>
<text class="ax" x="878" y="139.7">6700.000</text>
<text class="ax" x="878" y="107.7">6800.000</text>
<text class="ax" x="878" y="75.7">6900.000</text>
<text class="ax" x="878" y="562.8">80.0000</text>
<text class="ax" x="878" y="596.9">40.0000</text>
<text class="ax" x="878" y="629.8">0.0000</text>
<text class="ax" x="51.9" y="646.3" text-anchor="middle">28</text>
<text class="ax" x="162.9" y="646.3" text-anchor="middle">Июл</text>
<text class="ax" x="274.9" y="646.3" text-anchor="middle">4</text>
<text class="ax" x="366.9" y="646.3" text-anchor="middle">15:00</text>
<text class="ax" x="459.9" y="646.3" text-anchor="middle">9</text>
<text class="ax" x="571.9" y="646.3" text-anchor="middle">12</text>
<text class="ax" x="720.9" y="646.3" text-anchor="middle">16</text>
<text class="ax" x="831.9" y="646.3" text-anchor="middle">19</text>
<rect x="871" y="104" width="57" height="15.5" fill="#0000ff"/>
<rect x="872" y="111" width="3" height="1" fill="#fff" fill-opacity="0.75" shape-rendering="crispEdges"/>
<text class="lb" x="878" y="115.7">6777.000</text>
<rect x="871" y="216" width="57" height="15.5" fill="#ff0000"/>
<rect x="872" y="223" width="3" height="1" fill="#fff" fill-opacity="0.75" shape-rendering="crispEdges"/>
<text class="lb" x="878" y="227.7">6427.160</text>
<rect x="871" y="259.7" width="57" height="15.5" fill="#53b987"/>
<text class="lb" x="878" y="271.4">6248.080</text>
<rect x="871" y="275.5" width="57" height="15.5" fill="#4f4f4f"/>
<text class="lb" x="878" y="287.2">6243.980</text>
<rect x="871" y="325" width="57" height="15.5" fill="#3a7d1e"/>
<rect x="872" y="332" width="3" height="1" fill="#fff" fill-opacity="0.75" shape-rendering="crispEdges"/>
<text class="lb" x="878" y="336.7">6090.000</text>
<rect x="871" y="379" width="57" height="15.5" fill="#3a7d1e"/>
<rect x="872" y="386" width="3" height="1" fill="#fff" fill-opacity="0.75" shape-rendering="crispEdges"/>
<text class="lb" x="878" y="390.7">5920.000</text>
<rect x="871" y="514" width="57" height="15.5" fill="#3a7d1e"/>
<rect x="872" y="521" width="3" height="1" fill="#fff" fill-opacity="0.75" shape-rendering="crispEdges"/>
<text class="lb" x="878" y="525.7">5500.000</text>
<text class="hd" y="15.5"><tspan x="6.5" fill="#3aa4e0" textLength="31.5" lengthAdjust="spacingAndGlyphs">FilFox</tspan></text>
<text class="hd" x="41.5" y="15.5" textLength="357.5" lengthAdjust="spacingAndGlyphs">опубликовано на TradingView.com, Июль 15, 2018 06:50 MSK</text>
<text class="hd" x="6.2" y="33.7" font-weight="bold" textLength="138.2" lengthAdjust="spacingAndGlyphs">BITSTAMP:BTCUSD, 240</text>
<text class="hd" x="150.3" y="33.7" textLength="52" lengthAdjust="spacingAndGlyphs">6248.080</text>
<polygon points="206,33.9 217,33.9 211.5,24.3" fill="#0ca30c"/>
<text class="hd" x="220.5" y="33.7" textLength="91.1" lengthAdjust="spacingAndGlyphs">+4.100 (+0.07%)</text>
<text class="hd" x="316.6" y="33.7" font-weight="bold" textLength="11.5" lengthAdjust="spacingAndGlyphs">O:</text>
<text class="hd g" x="330.6" y="33.7" textLength="51.7" lengthAdjust="spacingAndGlyphs">6245.990</text>
<text class="hd" x="387.3" y="33.7" font-weight="bold" textLength="11.7" lengthAdjust="spacingAndGlyphs">H:</text>
<text class="hd g" x="402" y="33.7" textLength="51.7" lengthAdjust="spacingAndGlyphs">6255.860</text>
<text class="hd" x="458.7" y="33.7" font-weight="bold" textLength="8.2" lengthAdjust="spacingAndGlyphs">L:</text>
<text class="hd g" x="469.4" y="33.7" textLength="52.2" lengthAdjust="spacingAndGlyphs">6227.760</text>
<text class="hd" x="526.6" y="33.7" font-weight="bold" textLength="9.5" lengthAdjust="spacingAndGlyphs">C:</text>
<text class="hd g" x="538.1" y="33.7" textLength="52.9" lengthAdjust="spacingAndGlyphs">6248.080</text>
<text class="hd" x="6.2" y="672" textLength="123.8" lengthAdjust="spacingAndGlyphs">Создано при помощи</text>
<g transform="translate(139.9,661.2)">
<path d="M4.2,14.4 C1.8,14.4 0,12.7 0,10.5 C0,8.5 1.5,6.9 3.5,6.7 C3.9,4.2 5.8,2.6 8,2.9 C9,1.1 10.8,0 12.8,0 C15.6,0 17.9,2.1 18.3,4.9 C18.6,4.85 18.9,4.8 19.2,4.8 C21.8,4.8 23.9,6.9 23.9,9.6 C23.9,12.3 21.8,14.4 19.2,14.4 Z" fill="#5bc2e9"/>
<path d="M1.2,12 L8.6,5.6 L14.4,12.4 L21,6.4" fill="none" stroke="#f1f3f6" stroke-width="1.5" stroke-linejoin="miter"/>
</g>
<text x="170.6" y="672.4" font-size="12.6px" fill="#3da5de" textLength="69.5" lengthAdjust="spacingAndGlyphs">TradingView</text>
</svg></body></html>
